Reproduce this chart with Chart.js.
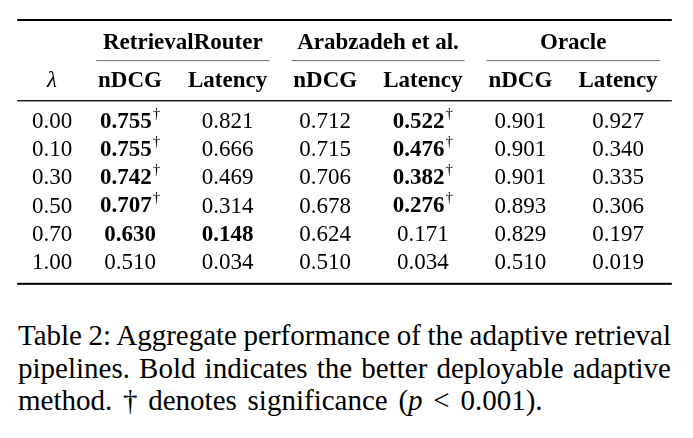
<!DOCTYPE html>
<html><head><meta charset="utf-8">
<script src="https://cdn.jsdelivr.net/npm/chart.js@4.4.0/dist/chart.umd.min.js"></script>
<style>
html,body{margin:0;padding:0;background:#fff;width:693px;height:438px;overflow:hidden;}
#wrap{position:relative;width:693px;height:438px;}
#c{position:absolute;left:0;top:0;width:693px;height:300px;}
#cap{position:absolute;left:18px;top:319px;width:653px;font-family:"Liberation Serif","Times New Roman",serif;font-size:29px;line-height:32.5px;color:#000;}
#cap .j{text-align:justify;text-align-last:justify;word-spacing:-1.5px;white-space:nowrap;}
#cap .l{text-align:left;white-space:nowrap;word-spacing:3.5px;}
</style></head><body>
<div id="wrap">
<canvas id="c" width="693" height="300"></canvas>
<div id="cap">
<div class="j">Table 2: Aggregate performance of the adaptive retrieval</div>
<div class="j" style="white-space:normal">pipelines. Bold indicates the better deployable adaptive</div>
<div class="l">method. &dagger; denotes significance (<i>p</i> &lt; 0.001).</div>
</div>
</div>
<script>
// ---- data ----
const lambdas = ['0.00','0.10','0.30','0.50','0.70','1.00'];
const methods = ['RetrievalRouter','Arabzadeh et al.','Oracle'];
const metrics = ['nDCG','Latency'];
const rrNdcg = [0.755,0.755,0.742,0.707,0.630,0.510];
const rrLat  = [0.821,0.666,0.469,0.314,0.148,0.034];
const arNdcg = [0.712,0.715,0.706,0.678,0.624,0.510];
const arLat  = [0.522,0.476,0.382,0.276,0.171,0.034];
const orNdcg = [0.901,0.901,0.901,0.893,0.829,0.510];
const orLat  = [0.927,0.340,0.335,0.306,0.197,0.019];
const rrNdcgBold = [1,1,1,1,1,0];
const rrLatBold  = [0,0,0,0,1,0];
const arNdcgBold = [0,0,0,0,0,0];
const arLatBold  = [1,1,1,1,0,0];
const orNdcgBold = [0,0,0,0,0,0];
const orLatBold  = [0,0,0,0,0,0];
const rrNdcgSig = [1,1,1,1,0,0];
const rrLatSig  = [0,0,0,0,0,0];
const arNdcgSig = [0,0,0,0,0,0];
const arLatSig  = [1,1,1,1,0,0];
const orNdcgSig = [0,0,0,0,0,0];
const orLatSig  = [0,0,0,0,0,0];
const lambdaHeader = 'λ';

// ---- build ----
const FONT = '"Liberation Serif","Times New Roman",serif';
const SIZE = 23, SUP = 15;
const cols = [rrNdcg, rrLat, arNdcg, arLat, orNdcg, orLat];
const bolds = [rrNdcgBold, rrLatBold, arNdcgBold, arLatBold, orNdcgBold, orLatBold];
const sigs = [rrNdcgSig, rrLatSig, arNdcgSig, arLatSig, orNdcgSig, orLatSig];
const colKeys = methods.flatMap(m => metrics.map(k => m + ' ' + k));

const datasets = cols.map((vals, c) => ({
  label: colKeys[c],
  data: vals.map((v, r) => ({x: colKeys[c], y: lambdas[r], v: v, b: bolds[c][r], s: sigs[c][r]})),
  pointRadius: 0, pointHoverRadius: 0, showLine: false
}));

const tablePlugin = {
  id: 'tableDraw',
  afterDraw(chart) {
    const ctx = chart.ctx, ca = chart.chartArea, xs = chart.scales.x, ys = chart.scales.y;
    ctx.save();
    const L = ca.left - 64, R = ca.right + 5;
    // rules
    ctx.fillStyle = '#000';
    ctx.fillRect(L, ca.top - 88.6, R - L, 2);      // top rule
    ctx.fillRect(L, ca.top - 7.5, R - L, 1.3);     // mid rule
    ctx.fillRect(L, ca.bottom + 5.6, R - L, 2);    // bottom rule
    const colW = xs.getPixelForValue(1) - xs.getPixelForValue(0);
    ctx.fillStyle = '#7a7a7a';
    const groupCenters = [];
    methods.forEach((m, g) => {
      const a = xs.getPixelForValue(2*g) - colW/2 + 15;
      const b = xs.getPixelForValue(2*g+1) + colW/2 - 7;
      ctx.fillRect(a, ca.top - 47.6, b - a, 1.1);
      groupCenters.push((a + b) / 2);
    });
    // group headers
    ctx.fillStyle = '#000';
    ctx.textBaseline = 'middle';
    ctx.textAlign = 'center';
    ctx.font = 'bold ' + SIZE + 'px ' + FONT;
    methods.forEach((m, g) => ctx.fillText(m, groupCenters[g], ca.top - 64.6));
    // lambda header
    ctx.font = SIZE + 'px ' + FONT;
    const wl = ctx.measureText(lambdas[0]).width;
    const lx = ys.right - ys.options.ticks.padding - wl / 2;
    ctx.font = 'italic ' + SIZE + 'px ' + FONT;
    ctx.fillText(lambdaHeader, lx, ca.top - 26.6);
    // cells
    ctx.textAlign = 'left';
    chart.data.datasets.forEach((ds, di) => {
      const meta = chart.getDatasetMeta(di);
      meta.data.forEach((pt, i) => {
        const d = ds.data[i];
        const txt = d.v.toFixed(3);
        ctx.font = (d.b ? 'bold ' : '') + SIZE + 'px ' + FONT;
        const w1 = ctx.measureText(txt).width;
        ctx.font = SUP + 'px ' + FONT;
        const w2 = d.s ? ctx.measureText('†').width + 1 : 0;
        const x0 = pt.x - (w1 + w2) / 2;
        ctx.font = (d.b ? 'bold ' : '') + SIZE + 'px ' + FONT;
        ctx.fillText(txt, x0, pt.y);
        if (d.s) {
          ctx.font = SUP + 'px ' + FONT;
          ctx.fillText('†', x0 + w1 + 1, pt.y - 8);
        }
      });
    });
    ctx.restore();
  }
};

new Chart(document.getElementById('c'), {
  type: 'scatter',
  data: {datasets},
  options: {
    responsive: false,
    animation: false,
    events: [],
    layout: {padding: {top: 47.6, right: 26.2, bottom: 19.6, left: 0}},
    plugins: {legend: {display: false}, tooltip: {enabled: false}, title: {display: false}},
    scales: {
      x: {
        type: 'category', labels: colKeys, position: 'top', offset: true,
        grid: {display: false, drawTicks: false}, border: {display: false},
        afterFit: s => { s.height = 60; },
        ticks: {
          color: '#000', padding: 12.8, maxRotation: 0, autoSkip: false,
          font: {family: FONT, size: SIZE, weight: 'bold'},
          callback: (val, idx) => metrics[idx % metrics.length]
        }
      },
      y: {
        type: 'category', labels: lambdas, position: 'left', offset: true,
        grid: {display: false, drawTicks: false}, border: {display: false},
        afterFit: s => { s.width = 81.2; },
        ticks: {color: '#000', padding: 9, autoSkip: false, font: {family: FONT, size: SIZE}}
      }
    }
  },
  plugins: [tablePlugin]
});
</script>
</body></html>
